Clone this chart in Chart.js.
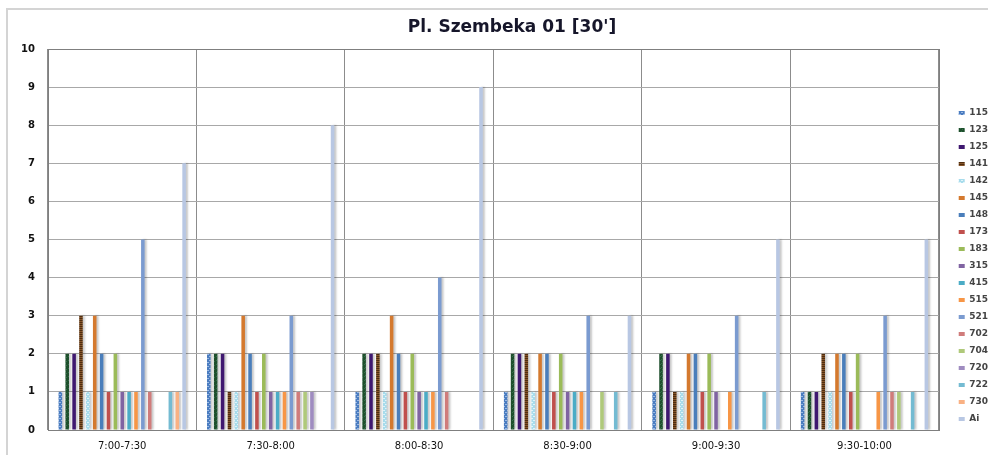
<!DOCTYPE html>
<html>
<head>
<meta charset="utf-8">
<script src="https://cdn.jsdelivr.net/npm/chart.js@4/dist/chart.umd.min.js"></script>
<style>
html,body{margin:0;padding:0;background:#fff;}
#wrap{width:988px;height:455px;position:relative;}
</style>
</head>
<body>
<div id="wrap"><canvas id="c" width="988" height="455"></canvas></div>
<script>
const titleText = "Pl. Szembeka 01 [30']";
const categories = ['7:00-7:30','7:30-8:00','8:00-8:30','8:30-9:00','9:00-9:30','9:30-10:00'];
const seriesNames = ['115','123','125','141','142','145','148','173','183','315','415','515','521','702','704','720','722','730','Ai'];
const s115 = [1,2,1,1,1,1];
const s123 = [2,2,2,2,2,1];
const s125 = [2,2,2,2,2,1];
const s141 = [3,1,2,2,1,2];
const s142 = [1,1,1,1,1,1];
const s145 = [3,3,3,2,2,2];
const s148 = [2,2,2,2,2,2];
const s173 = [1,1,1,1,1,1];
const s183 = [2,2,2,2,2,2];
const s315 = [1,1,1,1,1,0];
const s415 = [1,1,1,1,0,0];
const s515 = [1,1,1,1,1,1];
const s521 = [5,3,4,3,3,3];
const s702 = [1,1,1,0,0,1];
const s704 = [0,1,0,1,0,1];
const s720 = [0,1,0,0,0,0];
const s722 = [1,0,0,1,1,1];
const s730 = [1,0,0,0,0,0];
const sAi  = [7,8,9,3,5,5];
const yTicks = [0,1,2,3,4,5,6,7,8,9,10];

const seriesValues = [s115,s123,s125,s141,s142,s145,s148,s173,s183,s315,s415,s515,s521,s702,s704,s720,s722,s730,sAi];

function pattern(base, accent, kind){
  const p = document.createElement('canvas');
  p.width = 4; p.height = 4;
  const g = p.getContext('2d');
  g.fillStyle = base; g.fillRect(0,0,4,4);
  g.fillStyle = accent;
  if (kind === 'stripes') { g.fillRect(0,0,4,1); g.fillRect(0,2,4,1); }
  else if (kind === 'dots') { g.fillRect(1,0,2,1); g.fillRect(0,2,1,1); g.fillRect(3,2,1,1); }
  else { g.fillRect(0,0,1,1); g.fillRect(2,1,1,1); g.fillRect(1,3,1,1); }
  return document.getElementById('c').getContext('2d').createPattern(p,'repeat');
}

const colors = [
  pattern('#4a7cc0','#9ab8e2','dots'),
  pattern('#1e4f2c','#33704a','speck'),
  '#3f1870',
  pattern('#86552a','#4e2c0e','stripes'),
  pattern('#a8dcec','#dff4fa','dots'),
  '#d4792e',
  '#4a7ebb',
  '#c0504d',
  '#9bbb59',
  '#8064a2',
  '#4bacc6',
  '#f79646',
  '#7b9bd0',
  '#d07c7b',
  '#afc97a',
  '#9f8cc0',
  '#74bbd2',
  '#f9b183',
  '#b8c7e3'
];

const datasets = seriesNames.map((n,i)=>({
  label: n,
  data: seriesValues[i],
  backgroundColor: colors[i],
  borderWidth: 0,
  categoryPercentage: 0.88,
  barPercentage: 0.52
}));

const framePlugin = {
  id: 'frame',
  afterLayout(chart){
    const lg = chart.legend;
    if (lg) { lg.left += 12; lg.right += 12; lg.top += 15; lg.bottom += 15; }
  },
  beforeDraw(chart){
    const ctx = chart.ctx;
    ctx.save();
    ctx.strokeStyle = '#d4d4d4';
    ctx.lineWidth = 2;
    ctx.beginPath();
    ctx.moveTo(7, 455); ctx.lineTo(7, 9); ctx.lineTo(988, 9);
    ctx.stroke();
    ctx.restore();
  },
  beforeDatasetsDraw(chart){
    const ctx = chart.ctx;
    ctx.save();
    ctx.shadowColor = 'rgba(0,0,0,0.22)';
    ctx.shadowOffsetX = 2;
    ctx.shadowOffsetY = 0;
    ctx.shadowBlur = 2;
  },
  afterDatasetsDraw(chart){
    chart.ctx.restore();
    const ctx = chart.ctx, a = chart.chartArea;
    ctx.save();
    ctx.strokeStyle = '#7f7f7f';
    ctx.lineWidth = 1;
    ctx.strokeRect(Math.round(a.left)+0.5, Math.round(a.top)+0.5, Math.round(a.right-a.left), Math.round(a.bottom-a.top));
    ctx.restore();
  },
  afterDraw(chart){
    const ctx = chart.ctx;
    ctx.save();
    ctx.font = 'bold 17px "DejaVu Sans"';
    ctx.fillStyle = '#16162a';
    ctx.textAlign = 'center';
    ctx.textBaseline = 'middle';
    ctx.fillText(titleText, 512, 28);
    ctx.restore();
  }
};

new Chart(document.getElementById('c'), {
  type: 'bar',
  data: { labels: categories, datasets },
  plugins: [framePlugin],
  options: {
    responsive: false,
    animation: false,
    layout: { padding: { top: 49, left: 0, right: 2, bottom: 2 } },
    plugins: {
      title: { display: false },
      tooltip: { enabled: false },
      legend: {
        position: 'right',
        align: 'center',
        labels: {
          boxWidth: 6,
          boxHeight: 4,
          padding: 8,
          color: '#444',
          font: { family: '"DejaVu Sans"', size: 9, weight: 'bold' }
        }
      }
    },
    scales: {
      x: {
        afterFit(s){ s.height = 23; },
        grid: { color: '#8c8c8c', drawTicks: false, offset: true },
        border: { color: '#7f7f7f' },
        ticks: { color: '#111', padding: 10, font: { family: '"DejaVu Sans"', size: 10 } }
      },
      y: {
        min: 0, max: 10,
        afterFit(s){ s.width = 48; },
        afterBuildTicks(scale){ scale.ticks = yTicks.map(v=>({value:v})); },
        grid: { color: '#a8a8a8', drawTicks: false },
        border: { color: '#7f7f7f' },
        ticks: { color: '#111', padding: 13, font: { family: '"DejaVu Sans"', size: 10, weight: 'bold' } }
      }
    }
  }
});
</script>
</body>
</html>
